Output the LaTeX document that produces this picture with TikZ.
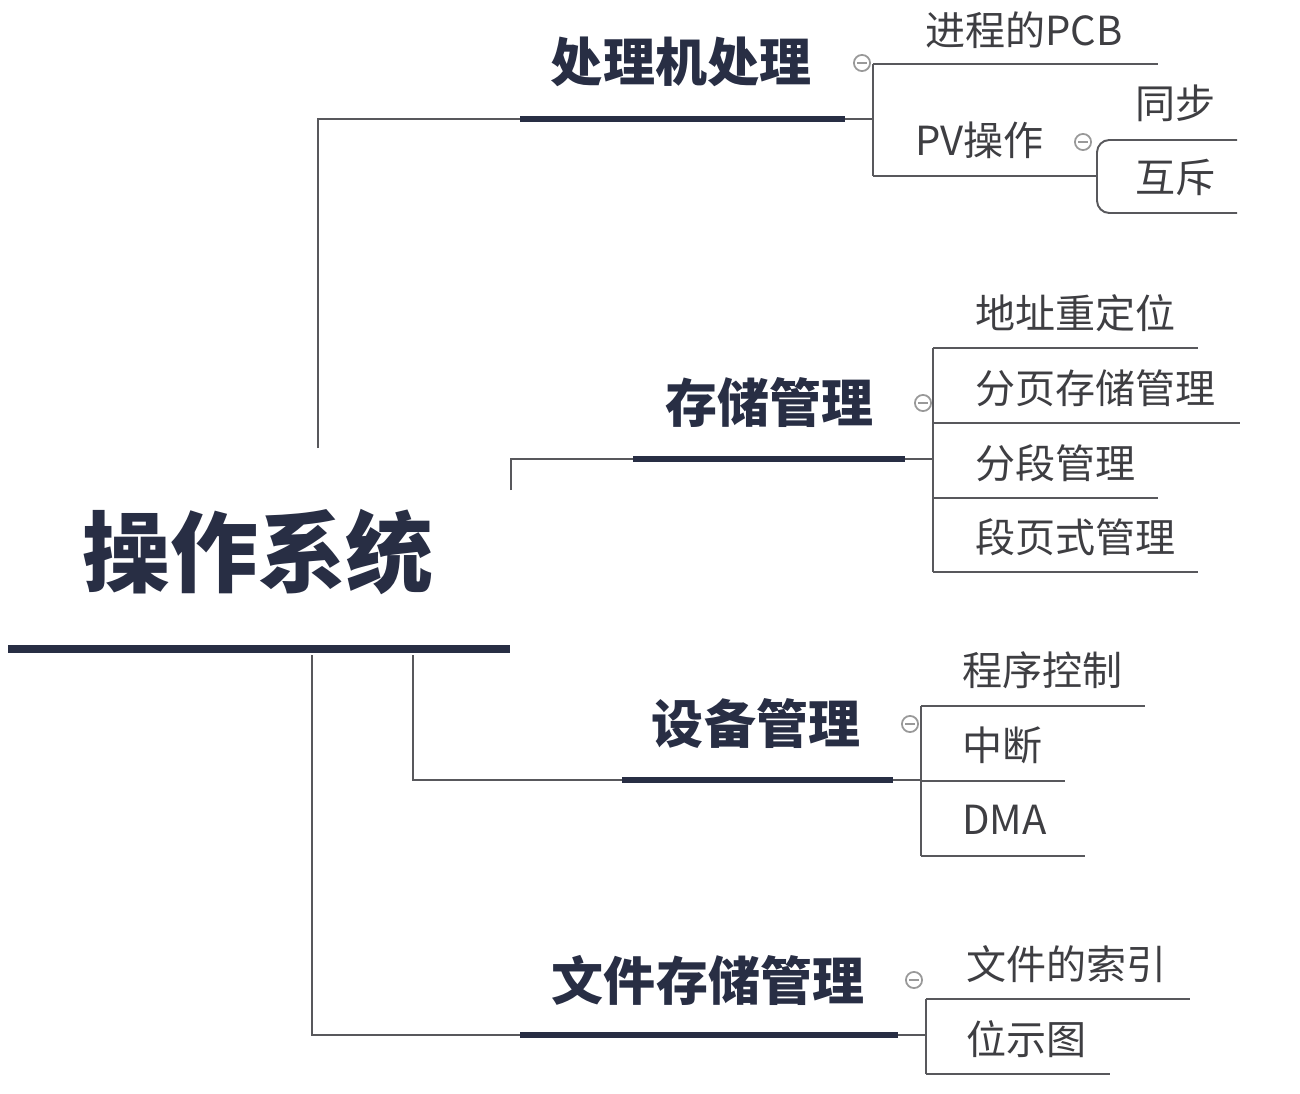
\documentclass[tikz,border=0pt]{standalone}
\usepackage{fontspec}
\newfontfamily\cjk{Noto Sans CJK SC}
\definecolor{navy}{RGB}{40,46,68}
\definecolor{leafgray}{RGB}{62,62,66}
\definecolor{linkgray}{RGB}{88,88,92}
\tikzset{
  main/.style={font=\cjk\bfseries\fontsize{50}{50}\selectfont, text=navy, inner sep=0pt},
  topic/.style={font=\cjk\bfseries\fontsize{29.6}{30}\selectfont, text=navy, inner sep=0pt},
  leaf/.style={font=\cjk\fontsize{22.8}{23}\selectfont, text=leafgray, inner sep=0pt, anchor=west},
  bar/.style={line width=3.4pt, draw=navy},
  link/.style={line width=1.1pt, draw=linkgray},
  pics/fold/.style={code={
    \draw[gray!80, fill=white, line width=1pt] (0,0) circle (4.6pt);
    \draw[gray!80, line width=1pt] (-2.6pt,0) -- (2.6pt,0);}}
}
\begin{document}
\begin{tikzpicture}[x=0.02cm, y=-0.02cm]
\useasboundingbox (0,0) rectangle (1300,1094);
\node[main] (os) at (258,552) {操作系统};
\coordinate (osl) at (8,649);
\coordinate (osr) at (510,649);
\draw[bar, line width=4.5pt] (osl) -- (osr);

\node[topic] (cpu) at (681,62) {处理机处理};
\coordinate (cpua) at (318,448);
\coordinate (cpul) at (520,119);
\coordinate (cpur) at (845,119);
\coordinate (cpuv) at (873,119);
\draw[link] (cpua) |- (cpul);
\draw[bar] (cpul) -- (cpur);
\draw[link] (cpur) -- (cpuv);
\draw[link] (873,64) -- (873,176);
\node[leaf] (pcb) at (925,30) {进程的PCB};
\draw[link] (873,64) -- (1158,64);
\node[leaf] (pv) at (915,140) {PV操作};
\draw[link] (873,176) -- (1097,176);
\draw[link, rounded corners=7] (1237,140) -- (1097,140) -- (1097,213) -- (1237,213);
\node[leaf] (sync) at (1135,103) {同步};
\node[leaf] (mutex) at (1135,178) {互斥};
\pic at (862,63) {fold};
\pic at (1083,142) {fold};

\node[topic] (mem) at (769,403) {存储管理};
\coordinate (mema) at (511,490);
\coordinate (meml) at (633,459);
\coordinate (memr) at (905,459);
\coordinate (memv) at (933,459);
\draw[link] (mema) |- (meml);
\draw[bar] (meml) -- (memr);
\draw[link] (memr) -- (memv);
\draw[link] (933,348) -- (933,572);
\foreach \t/\y/\r [count=\i] in {地址重定位/348/1198, 分页存储管理/423/1240, 分段管理/498/1158, 段页式管理/572/1198}{
  \node[leaf] (mem\i) at (975,\y-35) {\t};
  \draw[link] (933,\y) -- (\r,\y);
}
\pic at (923,403) {fold};

\node[topic] (dev) at (756,724) {设备管理};
\coordinate (deva) at (413,655);
\coordinate (devl) at (622,780);
\coordinate (devr) at (893,780);
\coordinate (devv) at (921,780);
\draw[link] (deva) |- (devl);
\draw[bar] (devl) -- (devr);
\draw[link] (devr) -- (devv);
\draw[link] (921,706) -- (921,856);
\foreach \t/\y/\r [count=\i] in {程序控制/706/1145, 中断/781/1065, DMA/856/1085}{
  \node[leaf] (dev\i) at (962,\y-36) {\t};
  \draw[link] (921,\y) -- (\r,\y);
}
\pic at (910,724) {fold};

\node[topic] (file) at (708,980) {文件存储管理};
\coordinate (filea) at (312,655);
\coordinate (filel) at (520,1035);
\coordinate (filer) at (898,1035);
\coordinate (filev) at (926,1035);
\draw[link] (filea) |- (filel);
\draw[bar] (filel) -- (filer);
\draw[link] (filer) -- (filev);
\draw[link] (926,999) -- (926,1074);
\foreach \t/\y/\r [count=\i] in {文件的索引/999/1190, 位示图/1074/1110}{
  \node[leaf] (file\i) at (966,\y-35) {\t};
  \draw[link] (926,\y) -- (\r,\y);
}
\pic at (914,980) {fold};
\end{tikzpicture}
\end{document}
